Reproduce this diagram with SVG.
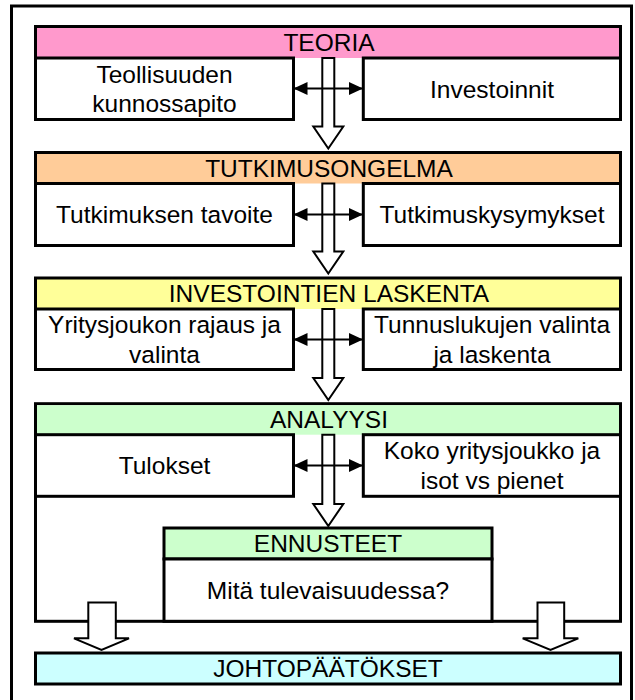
<svg xmlns="http://www.w3.org/2000/svg" width="635" height="700" viewBox="0 0 635 700">
  <defs>
    <style>
      .frame { fill: none; stroke: #000; stroke-width: 3; }
      .box { fill: #fff; stroke: #000; stroke-width: 3; }
      .hdr { stroke: #000; stroke-width: 3; }
      .pink { fill: #FF99CC; }
      .orange { fill: #FFCC99; }
      .yellow { fill: #FFFF99; }
      .green { fill: #CCFFCC; }
      .cyan { fill: #CCFFFF; }
      text { font-family: "Liberation Sans", Arial, sans-serif; font-size: 24.5px; fill: #000; text-anchor: middle; }
      .link { stroke: #000; stroke-width: 2; fill: none; marker-start: url(#head); marker-end: url(#head); }
      .flow { fill: #fff; stroke: #000; stroke-width: 2; stroke-linejoin: miter; }
    </style>
    <marker id="head" viewBox="0 0 14 14" refX="13" refY="7" markerWidth="14" markerHeight="14" markerUnits="userSpaceOnUse" orient="auto-start-reverse">
      <path d="M0,0.5 L14,7 L0,13.5 z" fill="#000"/>
    </marker>
  </defs>

  <rect x="0" y="0" width="635" height="700" fill="#fff"/>
  <!-- outer frame (bottom edge runs past the page) -->
  <rect class="frame" x="11.5" y="6" width="620" height="710"/>

  <!-- TEORIA -->
  <g id="teoria">
    <path class="hdr pink" d="M35.5,58 V26.5 H620.5 V58"/>
    <text x="329" y="51">TEORIA</text>
    <rect class="box" x="35.5" y="58" width="258" height="61.5"/>
    <text x="164.5" y="82.8">Teollisuuden</text>
    <text x="164.5" y="112.3">kunnossapito</text>
    <rect class="box" x="363.3" y="58" width="257.2" height="61.5"/>
    <text x="492" y="97.5">Investoinnit</text>
  </g>

  <!-- TUTKIMUSONGELMA -->
  <g id="tutkimusongelma">
    <path class="hdr orange" d="M35.5,183.5 V152.5 H620.5 V183.5"/>
    <text x="329" y="176.8">TUTKIMUSONGELMA</text>
    <rect class="box" x="35.5" y="183.5" width="258" height="62"/>
    <text x="164.5" y="223.3">Tutkimuksen tavoite</text>
    <rect class="box" x="363.3" y="183.5" width="257.2" height="62"/>
    <text x="492" y="223.3">Tutkimuskysymykset</text>
  </g>

  <!-- INVESTOINTIEN LASKENTA -->
  <g id="laskenta">
    <path class="hdr yellow" d="M35.5,309 V278 H620.5 V309"/>
    <text x="329" y="302.3">INVESTOINTIEN LASKENTA</text>
    <rect class="box" x="35.5" y="309" width="258" height="60.5"/>
    <text x="164.5" y="333.3">Yritysjoukon rajaus ja</text>
    <text x="164.5" y="362.8">valinta</text>
    <rect class="box" x="363.3" y="309" width="257.2" height="60.5"/>
    <text x="492" y="333.3">Tunnuslukujen valinta</text>
    <text x="492" y="362.8">ja laskenta</text>
  </g>

  <!-- ANALYYSI -->
  <g id="analyysi">
    <rect class="box" x="35.5" y="403.7" width="585" height="217.6"/>
    <rect class="green" x="37" y="405.2" width="582" height="29.5"/>
    <text x="329" y="428">ANALYYSI</text>
    <rect class="box" x="35.5" y="434.7" width="258" height="61.6"/>
    <text x="164.5" y="474.3">Tulokset</text>
    <rect class="box" x="363.3" y="434.7" width="257.2" height="61.6"/>
    <text x="492" y="459">Koko yritysjoukko ja</text>
    <text x="492" y="488.5">isot vs pienet</text>
  </g>

  <!-- ENNUSTEET -->
  <g id="ennusteet">
    <rect class="hdr green" x="164" y="528" width="328" height="31"/>
    <text x="328" y="552.3">ENNUSTEET</text>
    <rect class="box" x="164" y="559" width="328" height="62.3"/>
    <text x="328" y="599">Mitä tulevaisuudessa?</text>
  </g>

  <!-- JOHTOPÄÄTÖKSET -->
  <g id="johtopaatokset">
    <rect class="hdr cyan" x="35.5" y="653" width="585" height="31"/>
    <text x="328" y="677.3">JOHTOPÄÄTÖKSET</text>
  </g>

  <!-- connectors -->
  <g id="connectors">
    <path class="flow" d="M322.3,58 H334.3 V126.5 H343.3 L328.3,148.5 L313.3,126.5 H322.3 Z"/>
    <path class="flow" d="M322.3,183.5 H334.3 V251.5 H343.3 L328.3,273.5 L313.3,251.5 H322.3 Z"/>
    <path class="flow" d="M322.3,309 H334.3 V378 H343.3 L328.3,400 L313.3,378 H322.3 Z"/>
    <path class="flow" d="M322.3,434.7 H334.3 V504 H343.3 L328.3,526 L313.3,504 H322.3 Z"/>

    <line class="link" x1="294.5" y1="88.5" x2="362" y2="88.5"/>
    <line class="link" x1="294.5" y1="214.5" x2="362" y2="214.5"/>
    <line class="link" x1="294.5" y1="339.5" x2="362" y2="339.5"/>
    <line class="link" x1="294.5" y1="465.5" x2="362" y2="465.5"/>

    <path class="flow" d="M88.3,602.5 H115.8 V638.3 H129 L101.5,650 L74,638.3 H88.3 Z"/>
    <path class="flow" d="M537.5,602.5 H564.2 V638.3 H578.3 L550.5,650 L522.7,638.3 H537.5 Z"/>
  </g>
</svg>
